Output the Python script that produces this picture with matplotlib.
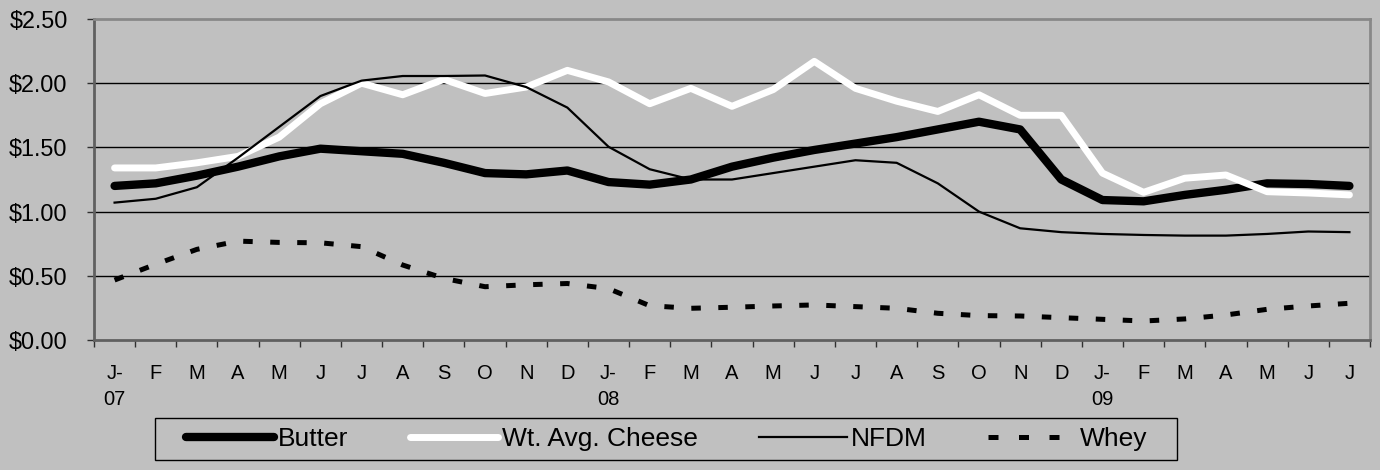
import matplotlib
matplotlib.use("Agg")
import matplotlib.pyplot as plt
from matplotlib.patches import Rectangle
from matplotlib.lines import Line2D
from matplotlib import font_manager
import numpy as np

plt.rcParams['font.family'] = ['Liberation Sans', 'DejaVu Sans']

months = ["J-\n07", "F", "M", "A", "M", "J", "J", "A", "S", "O", "N", "D",
          "J-\n08", "F", "M", "A", "M", "J", "J", "A", "S", "O", "N", "D",
          "J-\n09", "F", "M", "A", "M", "J", "J"]

butter = [1.20, 1.22, 1.28, 1.35, 1.43, 1.49, 1.47, 1.45, 1.38, 1.30, 1.29, 1.32,
          1.23, 1.21, 1.25, 1.35, 1.42, 1.48, 1.53, 1.58, 1.64, 1.70, 1.64, 1.25,
          1.09, 1.08, 1.13, 1.17, 1.22, 1.215, 1.20]
cheese = [1.34, 1.34, 1.38, 1.43, 1.58, 1.84, 2.00, 1.91, 2.03, 1.92, 1.97, 2.10,
          2.01, 1.84, 1.96, 1.82, 1.95, 2.17, 1.96, 1.86, 1.78, 1.91, 1.75, 1.75,
          1.30, 1.15, 1.26, 1.285, 1.155, 1.145, 1.13]
nfdm = [1.07, 1.10, 1.19, 1.42, 1.66, 1.90, 2.02, 2.056, 2.056, 2.06, 1.97, 1.81,
        1.505, 1.33, 1.25, 1.25, 1.30, 1.35, 1.40, 1.38, 1.22, 1.00, 0.87, 0.84,
        0.826, 0.818, 0.813, 0.813, 0.826, 0.845, 0.84]
whey = [0.467, 0.59, 0.706, 0.77, 0.76, 0.757, 0.727, 0.584, 0.48, 0.415, 0.43, 0.44,
        0.40, 0.267, 0.247, 0.255, 0.265, 0.273, 0.26, 0.247, 0.208, 0.19, 0.187, 0.174,
        0.161, 0.148, 0.164, 0.195, 0.239, 0.265, 0.286]
yticks = [0.0, 0.5, 1.0, 1.5, 2.0, 2.5]
ytick_labels = ["$0.00", "$0.50", "$1.00", "$1.50", "$2.00", "$2.50"]

installed = {f.name for f in font_manager.fontManager.ttflist}
xfont = ['Liberation Sans Narrow', 'Liberation Sans'] if 'Liberation Sans Narrow' in installed else ['Liberation Sans']

bg = "#C0C0C0"
W, H = 1380, 470
fig = plt.figure(figsize=(13.8, 4.7), dpi=100, facecolor=bg)
ax = fig.add_axes([94/W, 130/H, 1276/W, 321/H], facecolor=bg)

x = np.arange(len(months))
l1, = ax.plot(x, butter, color="black", lw=6, solid_capstyle="round", label="Butter", zorder=3)
l2, = ax.plot(x, cheese, color="white", lw=5, solid_capstyle="round", label="Wt. Avg. Cheese", zorder=4)
l3, = ax.plot(x, nfdm, color="black", lw=1.6, label="NFDM", zorder=5)
l4, = ax.plot(x, whey, color="black", lw=3.6, linestyle=(0, (1.9, 3.5)), label="Whey", zorder=5)

ax.set_xlim(-0.5, len(months) - 0.5)
ax.set_ylim(0, 2.5)
ax.set_yticks(yticks)
ax.set_yticklabels(ytick_labels, fontsize=16.8)
for v in yticks[1:-1]:
    ax.axhline(v, color="black", lw=1.0, zorder=1)

ax.set_xticks(x)
ax.set_xticklabels(months, fontsize=14.5, linespacing=1.5, va="top", family=xfont)
ax.set_xticks(np.arange(-0.5, len(months)), minor=True)
ax.tick_params(axis="x", which="major", length=0, pad=17)
ax.tick_params(axis="x", which="minor", length=5, width=1, color="#303030", direction="out")
ax.tick_params(axis="y", length=5, width=1, color="#303030", direction="out", pad=14)

for s in ["left", "bottom"]:
    ax.spines[s].set_color("#606060")
    ax.spines[s].set_linewidth(2)
for s in ["top", "right"]:
    ax.spines[s].set_color("#888888")
    ax.spines[s].set_linewidth(2)

whey_handle = Line2D([], [], color="black", lw=3.6, linestyle=(0, (2.0, 4.1)))
leg = fig.legend([l1, l2, l3, whey_handle], [l1.get_label(), l2.get_label(), l3.get_label(), l4.get_label()],
                 loc="center", bbox_to_anchor=(667/W, (H - 439)/H), ncol=4,
                 fontsize=19, frameon=False, handlelength=3.33, handletextpad=0.15,
                 columnspacing=2.33, borderpad=0.2)
fig.patches.append(Rectangle((155/W, (H - 460)/H), (1177 - 155)/W, (460 - 418)/H,
                             transform=fig.transFigure, facecolor="none",
                             edgecolor="black", lw=1.0))

fig.savefig("out.png", dpi=100, facecolor=bg)
